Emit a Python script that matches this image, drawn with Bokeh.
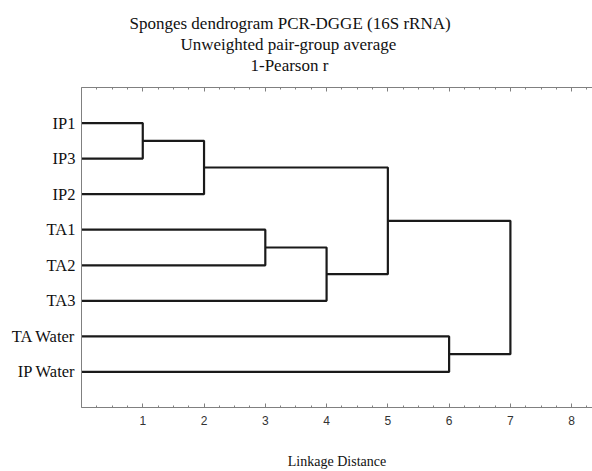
from bokeh.plotting import figure
from bokeh.models import Range1d, LinearAxis, FixedTicker, Title
from bokeh.embed import file_html
from bokeh.resources import INLINE

# ---- data ----
leaves = ["IP1", "IP3", "IP2", "TA1", "TA2", "TA3", "TA Water", "IP Water"]
# scipy-style linkage: node ids 0..7 are leaves, merge i creates node 8+i
merge_a = [0, 8, 3, 10, 9, 6, 12]
merge_b = [1, 2, 4, 5, 11, 7, 13]
merge_h = [1.0, 2.0, 3.0, 4.0, 5.0, 6.0, 7.0]
x_ticks = [1, 2, 3, 4, 5, 6, 7, 8]
titles = ["Sponges dendrogram PCR-DGGE (16S rRNA)",
          "Unweighted pair-group average",
          "1-Pearson r"]
x_label = "Linkage Distance"

# ---- build dendrogram segments ----
n = len(leaves)
pos_y = {i: i + 1 for i in range(n)}
pos_x = {i: 0.0 for i in range(n)}
xs, ys = [], []
for i, (a, b, h) in enumerate(zip(merge_a, merge_b, merge_h)):
    ya, yb = pos_y[a], pos_y[b]
    xs.append([pos_x[a], h, h, pos_x[b]])
    ys.append([ya, ya, yb, yb])
    node = n + i
    pos_y[node] = (ya + yb) / 2
    pos_x[node] = h

SERIF = "Liberation Serif"
SANS = "Liberation Sans"
FRAME = "#808080"
minor = [t / 4 for t in range(0, 34)]

p = figure(width=592, height=471, output_backend="svg", toolbar_location=None,
           x_range=Range1d(0, 8.34), y_range=Range1d(n + 1, 0),
           min_border_left=81, min_border_right=0, min_border_top=87,
           min_border_bottom=0)
p.outline_line_color = None
p.grid.visible = False
p.background_fill_color = "white"
p.border_fill_color = "white"

p.multi_line(xs, ys, line_color="#1a1a1a", line_width=2.2)

# bottom axis
xa = p.xaxis[0]
xa.ticker = FixedTicker(ticks=x_ticks, minor_ticks=minor)
xa.major_tick_in = 4
xa.major_tick_out = 0
xa.minor_tick_in = 2
xa.minor_tick_out = 0
xa.axis_line_color = FRAME
xa.major_tick_line_color = FRAME
xa.minor_tick_line_color = FRAME
xa.major_label_text_font = SANS
xa.major_label_text_font_size = "12px"
xa.major_label_text_color = "#333333"
xa.major_label_standoff = 8
xa.axis_label = x_label
xa.axis_label_text_font = SERIF
xa.axis_label_text_font_style = "normal"
xa.axis_label_text_font_size = "14px"
xa.axis_label_text_color = "#111111"
xa.axis_label_standoff = 26

# left axis
ya = p.yaxis[0]
ya.ticker = FixedTicker(ticks=[i + 1 for i in range(n)])
ya.major_label_overrides = {i + 1: lab for i, lab in enumerate(leaves)}
ya.major_tick_in = 0
ya.major_tick_out = 0
ya.minor_tick_line_color = None
ya.major_tick_line_color = None
ya.axis_line_color = FRAME
ya.major_label_text_font = SERIF
ya.major_label_text_font_size = "16.5px"
ya.major_label_text_color = "#111111"
ya.major_label_standoff = 6

# top axis (frame line with inward ticks, no labels)
top = LinearAxis(ticker=FixedTicker(ticks=x_ticks, minor_ticks=minor),
                 major_tick_in=4, major_tick_out=0, minor_tick_in=2, minor_tick_out=0,
                 axis_line_color=FRAME, major_tick_line_color=FRAME,
                 minor_tick_line_color=FRAME,
                 major_label_overrides={t: "" for t in x_ticks},
                 major_label_standoff=0)
p.add_layout(top, "above")

# invisible spacer between frame and title lines
spacer = LinearAxis(ticker=FixedTicker(ticks=x_ticks), major_tick_in=0, major_tick_out=13,
                    minor_tick_in=0, minor_tick_out=0, axis_line_color=None,
                    major_tick_line_color=None, minor_tick_line_color=None,
                    major_label_overrides={t: "" for t in x_ticks},
                    major_label_standoff=0)
p.add_layout(spacer, "above")

offsets = [48, 99, 169]
for txt, off in reversed(list(zip(titles, offsets))):
    p.add_layout(Title(text=txt, align="left", offset=off, text_font=SERIF,
                       text_font_size="17px", text_font_style="normal",
                       text_color="#111111", standoff=0), "above")

open("out.html", "w").write(file_html(p, INLINE))
